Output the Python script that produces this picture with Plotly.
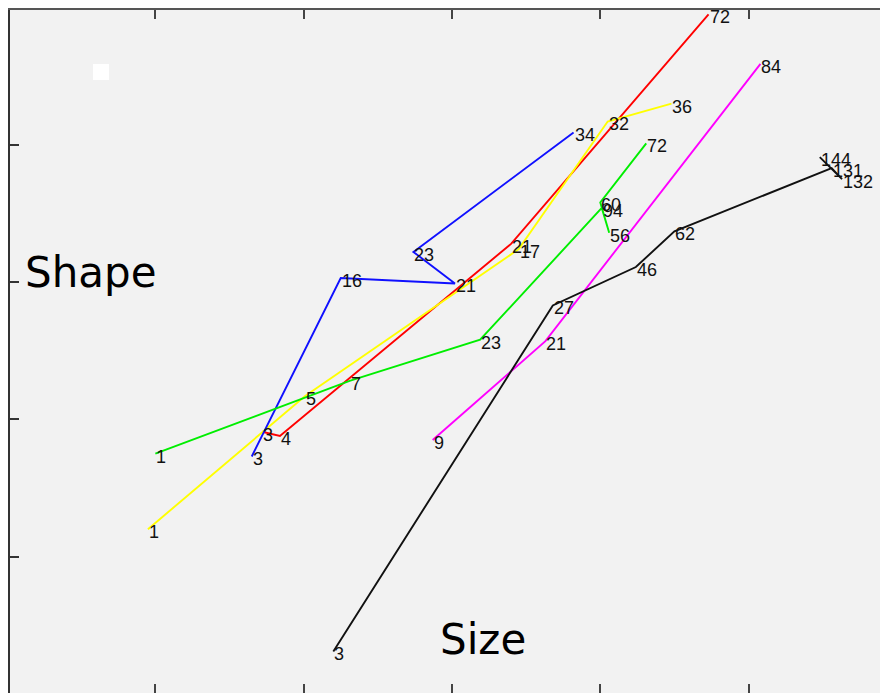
import plotly.graph_objects as go

# ---- data (x = size, y = shape, labels = ages) ----
red_x = [1.72, 1.84, 3.40, 4.73]
red_y = [1.91, 1.88, 3.28, 4.95]
red_lab = ["3", "4", "21", "72"]

yellow_x = [0.95, 2.01, 3.45, 4.05, 4.48]
yellow_y = [1.20, 2.17, 3.24, 4.17, 4.30]
yellow_lab = ["1", "5", "17", "32", "36"]

blue_x = [1.65, 2.25, 3.02, 2.74, 3.82]
blue_y = [1.73, 3.03, 2.99, 3.22, 4.09]
blue_lab = ["3", "16", "21", "23", "34"]

green_x = [1.00, 2.31, 3.19, 4.01, 4.06, 4.00, 4.31]
green_y = [1.75, 2.28, 2.58, 3.54, 3.36, 3.58, 4.01]
green_lab = ["1", "7", "23", "94", "56", "60", "72"]

magenta_x = [2.87, 3.63, 5.08]
magenta_y = [1.85, 2.57, 4.59]
magenta_lab = ["9", "21", "84"]

black_x = [2.20, 3.68, 4.24, 4.50, 5.56, 5.63, 5.48]
black_y = [0.31, 2.83, 3.11, 3.37, 3.83, 3.75, 3.91]
black_lab = ["3", "27", "46", "62", "131", "132", "144"]

x_ticks = [1, 2, 3, 4, 5]
y_ticks = [1, 2, 3, 4]

series = [
    (red_x, red_y, red_lab, "#ff0000"),
    (yellow_x, yellow_y, yellow_lab, "#ffff00"),
    (blue_x, blue_y, blue_lab, "#1010ff"),
    (green_x, green_y, green_lab, "#00ee00"),
    (magenta_x, magenta_y, magenta_lab, "#ff00ff"),
    (black_x, black_y, black_lab, "#111111"),
]

W, H = 880, 685  # page body adds an 8px offset

fig = go.Figure()
annots = []
for xs, ys, labs, col in series:
    fig.add_trace(go.Scatter(
        x=xs, y=ys, mode="lines",
        line=dict(color=col, width=1.9),
        showlegend=False, cliponaxis=False,
    ))
    for xv, yv, lab in zip(xs, ys, labs):
        annots.append(dict(
            x=xv, y=yv, xref="x", yref="y", text=lab, showarrow=False,
            xanchor="left", yanchor="middle", xshift=-1, yshift=-3,
            font=dict(family="Liberation Sans, Arial, sans-serif", size=18, color="#111111"),
        ))

annots += [
    dict(text="Shape", xref="paper", yref="paper", x=(21 - 8) / W, y=(693 - 271) / H,
         xanchor="left", yanchor="middle", showarrow=False,
         font=dict(family="DejaVu Sans", size=42, color="#000")),
    dict(text="Size", xref="paper", yref="paper", x=(437 - 8) / W, y=(693 - 639) / H,
         xanchor="left", yanchor="middle", showarrow=False,
         font=dict(family="DejaVu Sans", size=42, color="#000")),
]

fig.update_layout(
    width=W, height=H,
    margin=dict(l=2, r=0, t=2, b=0),
    paper_bgcolor="#ffffff",
    plot_bgcolor="#f2f2f2",
    xaxis=dict(range=[0.02, 5.94], tickvals=x_ticks, showticklabels=False,
               ticks="inside", ticklen=9, tickwidth=2, tickcolor="#444",
               showline=True, linecolor="#555", linewidth=2, mirror="ticks",
               showgrid=False, zeroline=False),
    yaxis=dict(range=[0.007, 4.982], tickvals=y_ticks, showticklabels=False,
               ticks="inside", ticklen=9, tickwidth=2, tickcolor="#333",
               showline=True, linecolor="#333", linewidth=2, mirror=False,
               showgrid=False, zeroline=False),
    annotations=annots,
    shapes=[
        dict(type="rect", xref="paper", yref="paper",
             x0=(93 - 10) / 878, x1=(109 - 10) / 878,
             y0=(693 - 80) / 683, y1=(693 - 64) / 683,
             fillcolor="#ffffff", line=dict(width=0), layer="below"),
    ],
)

fig.write_html("out.html")
